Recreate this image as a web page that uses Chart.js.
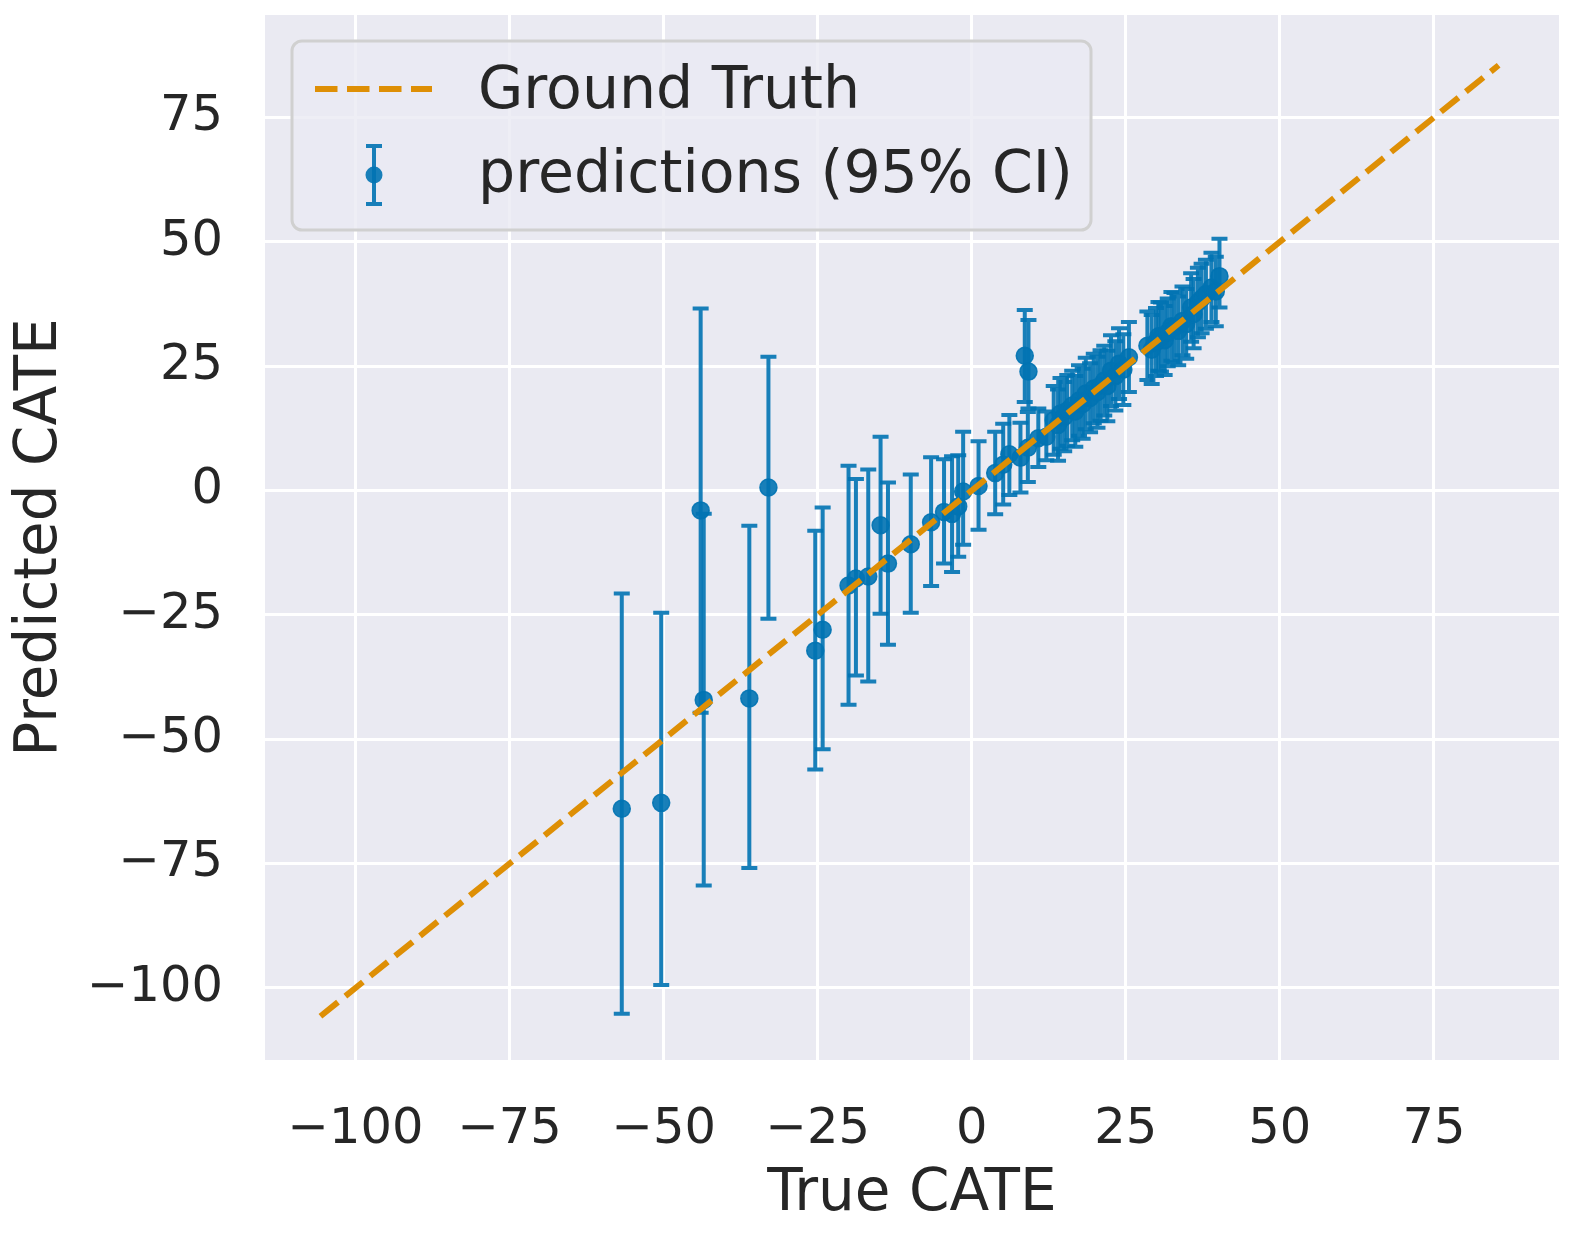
<!DOCTYPE html>
<html>
<head>
<meta charset="utf-8">
<script src="https://cdn.jsdelivr.net/npm/chart.js@4.4.0/dist/chart.umd.min.js"></script>
<style>
  html, body { margin: 0; padding: 0; background: #fff; }
  #wrap { width: 1575px; height: 1237px; }
</style>
</head>
<body>
<div id="wrap"><canvas id="cate" width="1575" height="1237"></canvas></div>
<script>
// True vs predicted CATE with 95% intervals
const trueCate = [-56.8, -50.4, -44.0, -43.5, -36.1, -33.0, -25.4, -24.2, -20.0, -18.8,
  -16.8, -14.8, -13.6, -9.9, -6.6, -4.5, -3.2, -2.2, -1.4, 1.1,
  3.8, 5.1, 6.1, 7.9, 8.6, 9.2, 9.1, 10.8, 12.1, 13.3,
  14.0, 14.4, 15.0, 15.5, 16.3, 16.8, 17.4, 18.0, 18.5, 19.2,
  19.8, 20.4, 20.9, 21.5, 22.0, 22.6, 23.3, 23.9, 24.6, 25.5,
  28.5, 29.2, 29.9, 30.3, 30.7, 31.3, 31.8, 32.4, 32.9, 33.5,
  34.2, 34.8, 35.6, 36.0, 36.7, 37.3, 38.0, 38.9, 39.6, 40.2];
const predCate = [-64.0, -62.8, -4.0, -42.1, -41.8, 0.6, -32.2, -28.0, -19.1, -17.7,
  -17.3, -7.0, -14.7, -10.8, -6.4, -4.3, -4.7, -3.2, -0.2, 0.9,
  3.5, 5.2, 7.3, 6.6, 27.1, 23.9, 8.6, 10.5, 10.8, 14.1,
  13.2, 15.5, 14.8, 16.1, 17.1, 15.9, 18.1, 17.4, 19.5, 18.6,
  20.5, 19.8, 21.1, 22.1, 21.0, 24.1, 23.0, 25.5, 24.3, 26.8,
  29.1, 28.3, 29.8, 31.0, 30.8, 30.2, 31.8, 33.0, 32.8, 32.1,
  34.1, 33.5, 36.8, 35.5, 37.8, 38.6, 39.5, 40.8, 40.0, 43.1];
const ciLow = [-105.2, -99.4, -44.7, -79.4, -75.9, -25.8, -56.1, -52.0, -43.1, -37.2,
  -38.4, -24.8, -31.0, -24.6, -19.2, -14.7, -16.4, -13.3, -10.9, -7.9,
  -4.8, -2.8, -0.9, -0.4, 17.8, 16.5, 1.7, 4.7, 6.1, 7.2,
  6.0, 8.4, 7.9, 9.0, 10.1, 8.8, 11.0, 10.4, 12.3, 11.7,
  13.5, 12.6, 14.0, 15.1, 13.9, 17.0, 16.1, 18.4, 17.2, 19.8,
  22.2, 21.4, 23.0, 24.1, 23.9, 23.2, 25.0, 26.1, 25.8, 25.2,
  27.2, 26.5, 29.9, 28.6, 30.8, 31.6, 32.5, 33.9, 33.0, 36.8];
const ciHigh = [-20.7, -24.6, 36.6, -4.7, -7.1, 26.9, -8.1, -3.4, 5.0, 2.3,
  4.2, 10.8, 1.6, 3.2, 6.7, 6.3, 6.9, 7.1, 11.8, 9.9,
  11.8, 13.4, 15.2, 13.6, 36.3, 34.3, 15.8, 16.5, 15.9, 21.0,
  20.3, 22.6, 21.8, 23.2, 24.1, 23.0, 25.2, 24.5, 26.7, 25.6,
  27.5, 26.9, 28.2, 29.1, 28.1, 31.2, 30.0, 32.6, 31.4, 33.9,
  36.0, 35.3, 36.7, 37.9, 37.8, 37.1, 38.6, 39.9, 39.7, 39.0,
  41.0, 40.5, 43.7, 42.5, 44.8, 45.6, 46.4, 47.8, 47.0, 50.6];
const groundX = [-105.7, 85.5];
const groundY = [-105.7, 85.5];
const xTicks = [-100, -75, -50, -25, 0, 25, 50, 75];
const yTicks = [-100, -75, -50, -25, 0, 25, 50, 75];

const BLUE_A = 'rgba(1,115,178,0.9)';
const ORANGE = '#de8f05';
const INK = '#262626';
const FONT = "'DejaVu Sans', sans-serif";
const DASH = [22.5, 9.5];

const fmt = v => (v < 0 ? '\u2212' + Math.abs(v) : '' + v);

// seaborn-style grey panel
const panel = {
  id: 'panel',
  beforeDraw(chart) {
    const { ctx, chartArea: a } = chart;
    ctx.save();
    ctx.fillStyle = '#fff';
    ctx.fillRect(0, 0, chart.width, chart.height);
    ctx.fillStyle = '#eaeaf2';
    ctx.fillRect(a.left, a.top, a.right - a.left, a.bottom - a.top);
    ctx.restore();
  }
};

// vertical error bars, drawn just before the markers
const errorBars = {
  id: 'errorBars',
  beforeDatasetDraw(chart, args) {
    if (args.index !== 1) return;
    const { ctx, scales: { x, y } } = chart;
    const cap = 8;
    ctx.save();
    ctx.strokeStyle = BLUE_A;
    ctx.lineWidth = 4;
    trueCate.forEach((v, i) => {
      const px = x.getPixelForValue(v);
      const hi = y.getPixelForValue(ciHigh[i]);
      const lo = y.getPixelForValue(ciLow[i]);
      ctx.beginPath();
      ctx.moveTo(px, hi); ctx.lineTo(px, lo);
      ctx.moveTo(px - cap, hi); ctx.lineTo(px + cap, hi);
      ctx.moveTo(px - cap, lo); ctx.lineTo(px + cap, lo);
      ctx.stroke();
    });
    ctx.restore();
  }
};

// legend box in the upper left, matplotlib style
const legendBox = {
  id: 'legendBox',
  afterDraw(chart) {
    const { ctx } = chart;
    const bx = 292, by = 41, bw = 799, bh = 189, r = 10;
    ctx.save();
    ctx.beginPath();
    ctx.roundRect(bx, by, bw, bh, r);
    ctx.fillStyle = 'rgba(234,234,242,0.8)';
    ctx.fill();
    ctx.lineWidth = 3;
    ctx.strokeStyle = '#d0d0d0';
    ctx.stroke();

    ctx.beginPath();
    ctx.setLineDash(DASH);
    ctx.lineWidth = 6;
    ctx.strokeStyle = ORANGE;
    ctx.moveTo(315, 89); ctx.lineTo(432, 89);
    ctx.stroke();
    ctx.setLineDash([]);

    ctx.beginPath();
    ctx.strokeStyle = BLUE_A;
    ctx.lineWidth = 4;
    ctx.moveTo(374, 146); ctx.lineTo(374, 204);
    ctx.moveTo(366, 146); ctx.lineTo(382, 146);
    ctx.moveTo(366, 204); ctx.lineTo(382, 204);
    ctx.stroke();
    ctx.beginPath();
    ctx.fillStyle = BLUE_A;
    ctx.arc(374, 175, 8.5, 0, Math.PI * 2);
    ctx.fill();

    ctx.fillStyle = INK;
    ctx.font = '58.5px ' + FONT;
    ctx.textBaseline = 'middle';
    ctx.textAlign = 'left';
    ctx.fillText('Ground Truth', 478, 93);
    ctx.fillText('predictions (95% CI)', 478, 177);
    ctx.restore();
  }
};

new Chart(document.getElementById('cate'), {
  type: 'scatter',
  data: {
    datasets: [
      {
        type: 'line',
        label: 'Ground Truth',
        data: groundX.map((v, i) => ({ x: v, y: groundY[i] })),
        borderColor: ORANGE,
        borderWidth: 6,
        borderDash: DASH,
        pointRadius: 0,
        fill: false
      },
      {
        label: 'predictions (95% CI)',
        data: trueCate.map((v, i) => ({ x: v, y: predCate[i] })),
        backgroundColor: BLUE_A,
        borderColor: BLUE_A,
        borderWidth: 1.5,
        pointRadius: 8.5
      }
    ]
  },
  options: {
    responsive: false,
    animation: false,
    devicePixelRatio: 1,
    layout: { padding: { left: 0, right: 16, top: 15, bottom: 0 } },
    plugins: { legend: { display: false }, tooltip: { enabled: false } },
    scales: {
      x: {
        type: 'linear',
        min: -114.7,
        max: 95.3,
        afterBuildTicks: s => { s.ticks = xTicks.map(v => ({ value: v })); },
        afterFit: s => { s.height = 177; s.paddingLeft = 0; s.paddingRight = 0; },
        grid: { color: '#ffffff', lineWidth: 3, drawTicks: false },
        border: { display: false },
        ticks: { color: INK, font: { family: FONT, size: 49.5 }, padding: 40, maxRotation: 0, callback: fmt },
        title: { display: true, text: 'True CATE', color: INK, font: { family: FONT, size: 58 }, padding: { top: 0, bottom: 7 } }
      },
      y: {
        type: 'linear',
        min: -114.5,
        max: 95.6,
        afterBuildTicks: s => { s.ticks = yTicks.map(v => ({ value: v })); },
        afterFit: s => { s.width = 265; s.paddingTop = 0; s.paddingBottom = 0; },
        grid: { color: '#ffffff', lineWidth: 3, drawTicks: false },
        border: { display: false },
        ticks: { color: INK, font: { family: FONT, size: 49.5 }, padding: 42, callback: fmt },
        title: { display: true, text: 'Predicted CATE', color: INK, font: { family: FONT, size: 58 }, padding: { top: 6.5, bottom: 0 } }
      }
    }
  },
  plugins: [panel, errorBars, legendBox]
});
</script>
</body>
</html>
